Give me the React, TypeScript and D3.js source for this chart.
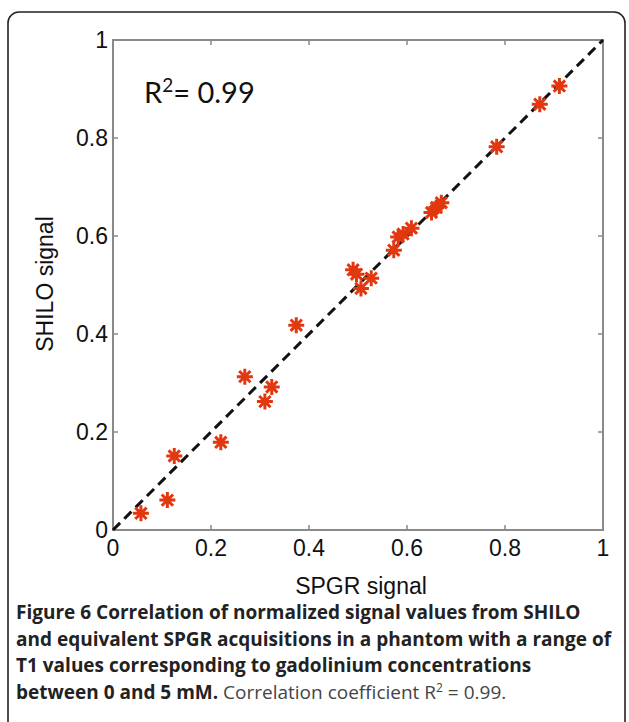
import React from "react";
import * as d3 from "d3";

const spgr = [0.057, 0.111, 0.125, 0.22, 0.269, 0.31, 0.324, 0.374, 0.49, 0.497, 0.506, 0.527, 0.573, 0.582, 0.592, 0.609, 0.65, 0.66, 0.67, 0.783, 0.871, 0.911];
const shilo = [0.034, 0.061, 0.151, 0.179, 0.313, 0.262, 0.292, 0.418, 0.531, 0.522, 0.493, 0.514, 0.571, 0.598, 0.604, 0.616, 0.648, 0.658, 0.668, 0.782, 0.869, 0.906];
const ticks = [0, 0.2, 0.4, 0.6, 0.8, 1];
const tickLabels = ["0", "0.2", "0.4", "0.6", "0.8", "1"];
const captionBold = [
  "Figure 6 Correlation of normalized signal values from SHILO",
  "and equivalent SPGR acquisitions in a phantom with a range of",
  "T1 values corresponding to gadolinium concentrations",
  "between 0 and 5 mM.",
];

export default function App() {
  const W = 629, H = 722;
  const x = d3.scaleLinear().domain([0, 1]).range([113, 603]);
  const y = d3.scaleLinear().domain([0, 1]).range([530, 40]);
  const axisColor = "#8a8a8a";
  const tickFont = "'Liberation Sans', Arial, sans-serif";
  const capFont = "'Open Sans', sans-serif";
  const r = 8;
  const star = (cx: number, cy: number) => {
    const p = d3.path();
    for (let k = 0; k < 4; k++) {
      const a = (k * Math.PI) / 4;
      p.moveTo(cx - r * Math.cos(a), cy - r * Math.sin(a));
      p.lineTo(cx + r * Math.cos(a), cy + r * Math.sin(a));
    }
    return p.toString();
  };
  const diag = d3.line<number>().x((d) => x(d)).y((d) => y(d))([0, 1]) || "";
  const lineYs = [619, 645.5, 672, 698.5];
  return (
    <svg width={W} height={H} style={{ position: "absolute", left: 0, top: 0, background: "#fff" }}>
      <rect x={8} y={12} width={617} height={740} rx={11} ry={11} fill="none" stroke="#222" strokeWidth={1.6} />
      <rect x={x(0)} y={y(1)} width={x(1) - x(0)} height={y(0) - y(1)} fill="none" stroke={axisColor} strokeWidth={2} />
      {ticks.map((t, i) => (
        <g key={"t" + i}>
          <line x1={x(t)} x2={x(t)} y1={y(0)} y2={y(0) - 5} stroke={axisColor} strokeWidth={1.5} />
          <line x1={x(t)} x2={x(t)} y1={y(1)} y2={y(1) + 5} stroke={axisColor} strokeWidth={1.5} />
          <line x1={x(0)} x2={x(0) + 5} y1={y(t)} y2={y(t)} stroke={axisColor} strokeWidth={1.5} />
          <line x1={x(1)} x2={x(1) - 5} y1={y(t)} y2={y(t)} stroke={axisColor} strokeWidth={1.5} />
          <text x={x(t)} y={y(0) + 26} textAnchor="middle" fontFamily={tickFont} fontSize={23} fill="#111">{tickLabels[i]}</text>
          <text x={x(0) - 5} y={y(t) + 8} textAnchor="end" fontFamily={tickFont} fontSize={23} fill="#111">{tickLabels[i]}</text>
        </g>
      ))}
      <path d={diag} stroke="#111" strokeWidth={3} strokeDasharray="10,6" fill="none" />
      {spgr.map((v, i) => (
        <path key={"p" + i} d={star(x(v), y(shilo[i]))} stroke="#e2380f" strokeWidth={3} fill="none" />
      ))}
      <text x={144} y={103} fontFamily="Lato, 'Open Sans', sans-serif" fontSize={29} fill="#111">
        R<tspan dy={-11} fontSize={19}>2</tspan><tspan dy={11}>= 0.99</tspan>
      </text>
      <text x={361} y={594} textAnchor="middle" fontFamily={tickFont} fontSize={23} fill="#111">SPGR signal</text>
      <text transform={`translate(53,284) rotate(-90)`} textAnchor="middle" fontFamily={tickFont} fontSize={23} fill="#111">SHILO signal</text>
      {captionBold.map((s, i) => (
        <text key={"c" + i} x={16} y={lineYs[i]} fontFamily={capFont} fontSize={19} fontWeight={700} fill="#222">
          {s}
          {i === 3 ? (
            <tspan fontWeight={400} fill="#444"> Correlation coefficient R<tspan dy={-7} fontSize={12}>2</tspan><tspan dy={7}> = 0.99.</tspan></tspan>
          ) : null}
        </text>
      ))}
    </svg>
  );
}
